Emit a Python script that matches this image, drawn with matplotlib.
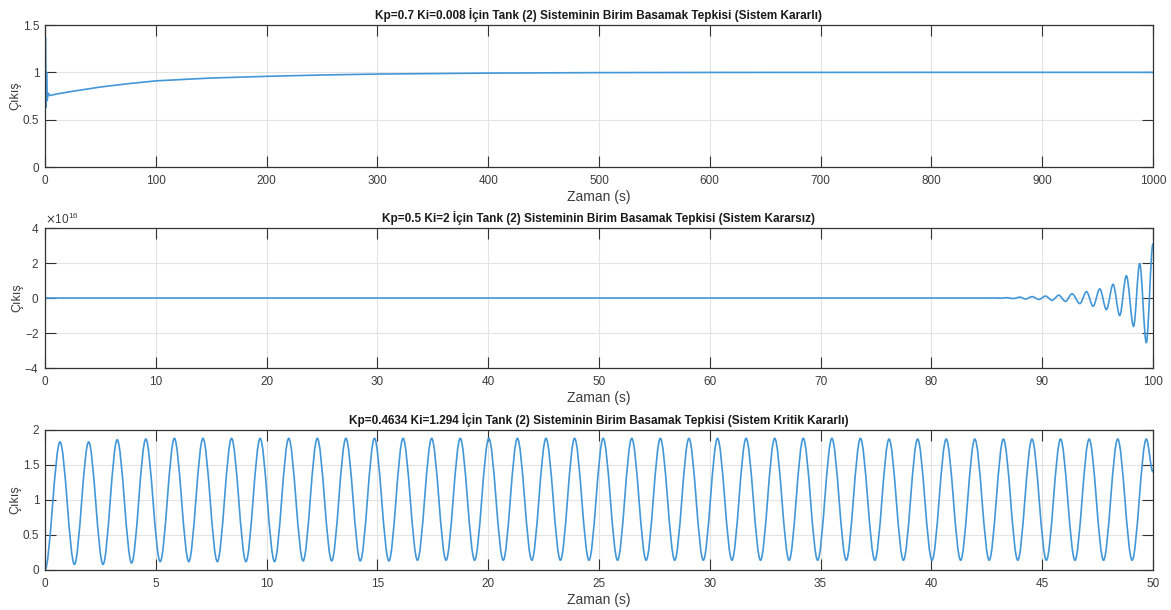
import numpy as np
import matplotlib
matplotlib.use("Agg")
import matplotlib.pyplot as plt
from matplotlib.path import Path
from matplotlib.patches import PathPatch
from matplotlib.ticker import ScalarFormatter

plt.rcParams['font.family'] = ['Liberation Sans', 'DejaVu Sans']

# Kp=0.7 Ki=0.008 - kararlı cevap
t_stable = [0, 0.4, 0.9, 1.4, 2.0, 2.8, 4.5, 10, 25, 50, 75, 100, 150, 200,
            250, 300, 400, 500, 600, 800, 1000]
y_stable = [0, 1.37, 0.63, 1.0, 0.70, 0.78, 0.755, 0.77, 0.80, 0.845, 0.88,
            0.91, 0.94, 0.958, 0.972, 0.982, 0.992, 0.997, 0.999, 1.0, 1.0]

# Kp=0.5 Ki=2 - kararsız cevap (tepe/çukur noktaları, x1e16)
t_unstable = [0, 85.0, 85.6, 86.2, 86.8, 87.4, 88.0, 88.5, 89.1, 89.7, 90.3,
              90.9, 91.5, 92.1, 92.7, 93.4, 94.0, 94.6, 95.2, 95.8, 96.4,
              97.0, 97.6, 98.25, 98.8, 99.4, 100.0]
y_unstable = [0, 0, 0.005, -0.01, 0.02, -0.03, 0.05, -0.06, 0.08, -0.08, 0.11,
              -0.13, 0.16, -0.19, 0.24, -0.32, 0.36, -0.47, 0.52, -0.66, 0.78,
              -1.0, 1.27, -1.62, 1.97, -2.55, 3.1]

# Kp=0.4634 Ki=1.294 - kritik kararlı cevap (tepe ve çukurlar)
t_peaks = [0.68, 1.97, 3.26, 4.55, 5.84, 7.13, 8.42, 9.71, 11.00, 12.29,
           13.58, 14.87, 16.16, 17.45, 18.74, 20.03, 21.32, 22.61, 23.90,
           25.19, 26.48, 27.77, 29.06, 30.35, 31.64, 32.93, 34.22, 35.51,
           36.80, 38.09, 39.38, 40.67, 41.96, 43.25, 44.54, 45.83, 47.12,
           48.41, 49.70]
y_peaks = [1.83, 1.83, 1.86, 1.87, 1.88, 1.88, 1.88, 1.88, 1.88, 1.88, 1.88,
           1.88, 1.88, 1.88, 1.88, 1.88, 1.88, 1.88, 1.88, 1.88, 1.88, 1.88,
           1.88, 1.88, 1.88, 1.88, 1.88, 1.88, 1.88, 1.87, 1.87, 1.87, 1.87,
           1.87, 1.87, 1.87, 1.87, 1.87, 1.87]
t_troughs = [1.33, 2.62, 3.91, 5.20, 6.49, 7.78, 9.07, 10.36, 11.65, 12.94,
             14.23, 15.52, 16.81, 18.10, 19.39, 20.68, 21.97, 23.26, 24.55,
             25.84, 27.13, 28.42, 29.71, 31.00, 32.29, 33.58, 34.87, 36.16,
             37.45, 38.74, 40.03, 41.32, 42.61, 43.90, 45.19, 46.48, 47.77,
             49.06]
y_troughs = [0.08, 0.08, 0.10, 0.12, 0.12, 0.12, 0.12, 0.12, 0.13, 0.13, 0.13,
             0.13, 0.14, 0.14, 0.14, 0.14, 0.14, 0.14, 0.14, 0.14, 0.14, 0.14,
             0.14, 0.14, 0.14, 0.14, 0.14, 0.14, 0.14, 0.14, 0.14, 0.14, 0.14,
             0.14, 0.14, 0.14, 0.14, 0.14]
t_end, y_end = 50.0, 1.40

titles = [
    "Kp=0.7 Ki=0.008 İçin Tank (2) Sisteminin Birim Basamak Tepkisi (Sistem Kararlı)",
    "Kp=0.5 Ki=2 İçin Tank (2) Sisteminin Birim Basamak Tepkisi (Sistem Kararsız)",
    "Kp=0.4634 Ki=1.294 İçin Tank (2) Sisteminin Birim Basamak Tepkisi (Sistem Kritik Kararlı)",
]

LINE = '#4297d8'
EDGE = '#333333'
TXT = '#3c3c3c'


def smooth_path(ts, vs, scale=1.0):
    # kubik bezier ile tepe noktalarından geçen eğri
    verts = [(ts[0], vs[0] * scale)]
    codes = [Path.MOVETO]
    for i in range(1, len(ts)):
        t0, t1 = ts[i - 1], ts[i]
        v0, v1 = vs[i - 1] * scale, vs[i] * scale
        dt = t1 - t0
        verts += [(t0 + dt / 3, v0), (t1 - dt / 3, v1), (t1, v1)]
        codes += [Path.CURVE4] * 3
    return Path(verts, codes)


def style(ax, xlim, ylim, xticks, yticks):
    ax.set_xlim(*xlim)
    ax.set_ylim(*ylim)
    ax.set_xticks(xticks)
    ax.set_yticks(yticks)
    ax.grid(True, color='#e3e3e3', linewidth=0.8)
    ax.set_axisbelow(True)
    ax.tick_params(direction='in', length=8, width=0.8, top=True, right=True,
                   colors=EDGE, labelcolor=TXT, labelsize=8.5)
    ax.tick_params(axis='x', pad=6)
    ax.tick_params(axis='y', pad=4)
    for s in ax.spines.values():
        s.set_color(EDGE)
        s.set_linewidth(0.9)
    ax.set_xlabel("Zaman (s)", fontsize=10, color=TXT, labelpad=2)
    ax.set_ylabel("Çıkış", fontsize=9, color=TXT, labelpad=1)


fig = plt.figure(figsize=(11.71, 6.10), dpi=100)
ax1 = fig.add_axes([0.0384, 0.7262, 0.9462, 0.2328])
ax2 = fig.add_axes([0.0384, 0.3967, 0.9462, 0.2295])
ax3 = fig.add_axes([0.0384, 0.0656, 0.9462, 0.2295])

ax1.plot(t_stable, y_stable, color=LINE, linewidth=1.2)
style(ax1, (0, 1000), (0, 1.5), np.arange(0, 1001, 100), [0, 0.5, 1, 1.5])
ax1.set_yticklabels(['0', '0.5', '1', '1.5'])

ax2.add_patch(PathPatch(smooth_path(t_unstable, y_unstable, 1e16),
                        fill=False, edgecolor=LINE, linewidth=1.2))
style(ax2, (0, 100), (-4e16, 4e16), np.arange(0, 101, 10),
      [-4e16, -2e16, 0, 2e16, 4e16])
fmt = ScalarFormatter(useMathText=True)
fmt.set_powerlimits((0, 0))
ax2.yaxis.set_major_formatter(fmt)
ax2.yaxis.get_offset_text().set_fontsize(8.5)
ax2.yaxis.get_offset_text().set_color(TXT)

# tepe ve çukurları zaman sırasına göre birleştir
ts3 = [0.0]
vs3 = [0.0]
for i in range(len(t_peaks)):
    ts3.append(t_peaks[i])
    vs3.append(y_peaks[i])
    if i < len(t_troughs):
        ts3.append(t_troughs[i])
        vs3.append(y_troughs[i])
ts3.append(t_end)
vs3.append(y_end)
ax3.add_patch(PathPatch(smooth_path(ts3, vs3), fill=False, edgecolor=LINE,
                        linewidth=1.2))
style(ax3, (0, 50), (0, 2), np.arange(0, 51, 5), [0, 0.5, 1, 1.5, 2])
ax3.set_yticklabels(['0', '0.5', '1', '1.5', '2'])

for ax, title in zip([ax1, ax2, ax3], titles):
    ax.set_title(title, fontsize=8.5, fontweight='bold', color='#1a1a1a', pad=4)

fig.savefig("out.png", dpi=100)
